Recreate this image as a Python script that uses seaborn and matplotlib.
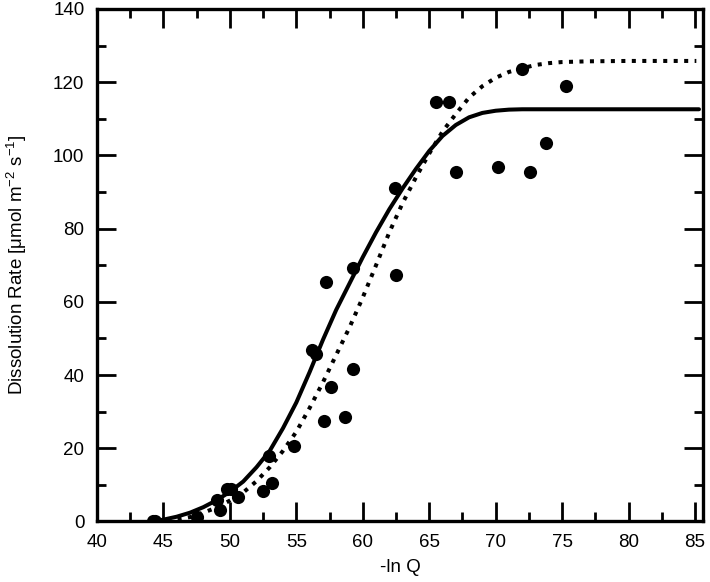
import numpy as np
import pandas as pd
import seaborn as sns
import matplotlib.pyplot as plt
from matplotlib.ticker import MultipleLocator

# measured dissolution rates
ln_q = [44.2, 44.4, 47.5, 49.0, 49.25, 49.75, 50.1, 50.6, 52.5, 52.96,
        53.2, 54.8, 56.2, 56.5, 57.1, 57.2, 57.6, 58.7, 59.3, 59.3,
        62.4, 62.5, 65.5, 66.5, 67.0, 70.2, 72.0, 72.6, 73.8, 75.3]
rate = [0.2, 0.2, 1.2, 5.8, 3.0, 9.0, 9.0, 6.8, 8.3, 17.9,
        10.5, 20.5, 46.8, 45.8, 27.5, 65.4, 36.6, 28.6, 41.6, 69.2,
        91.1, 67.4, 114.6, 114.6, 95.4, 96.8, 123.7, 95.4, 103.5, 119.0]

# model curve 1 (solid)
fit1_x = [44.2, 45.0, 46.0, 47.0, 48.0, 49.0, 50.0, 51.0, 52.0, 53.0,
          54.0, 55.0, 56.0, 57.0, 58.0, 59.0, 60.0, 61.0, 62.0,
          63.0, 64.0, 65.0, 66.0, 67.0, 68.0, 69.0, 70.0, 71.0, 72.0,
          85.3]
fit1_y = [0.0, 0.5, 1.3, 2.4, 3.9, 5.8, 8.1, 10.9, 14.8, 19.3,
          25.5, 32.5, 40.8, 49.6, 57.8, 65.0, 72.2, 79.0, 85.3,
          91.0, 96.3, 101.2, 105.3, 108.3, 110.4, 111.6, 112.2, 112.5, 112.6,
          112.6]

# model curve 2 (dotted)
fit2_x = [44.5, 45.0, 46.0, 47.0, 48.0, 49.0, 50.0, 51.0, 52.0, 53.0,
          54.0, 55.0, 56.0, 57.0, 58.0, 59.0, 60.0, 61.0, 62.0, 63.0,
          64.0, 65.0, 66.0, 67.0, 68.0, 69.0, 70.0, 71.0, 72.0, 73.0,
          74.0, 75.0, 77.0, 80.0, 85.1]
fit2_y = [0.0, 0.1, 0.5, 1.2, 2.4, 3.8, 5.7, 7.9, 11.0, 14.8,
          19.3, 24.5, 31.0, 38.0, 45.5, 53.0, 61.2, 70.0, 79.0, 87.0,
          94.0, 100.5, 106.5, 111.3, 115.8, 118.9, 121.2, 122.8, 123.8, 124.7,
          125.2, 125.5, 125.7, 125.8, 125.8]

sns.set_style("ticks", {"axes.edgecolor": "black", "xtick.color": "black",
                        "ytick.color": "black", "text.color": "black",
                        "axes.labelcolor": "black"})
plt.rcParams['font.family'] = ['Liberation Sans', 'DejaVu Sans']
plt.rcParams['mathtext.fontset'] = 'custom'
plt.rcParams['mathtext.rm'] = 'Liberation Sans'
plt.rcParams['mathtext.it'] = 'Liberation Sans:italic'

fig = plt.figure(figsize=(7.1, 5.82), dpi=100)
ax = fig.add_axes([0.1366, 0.104, 0.8535, 0.8806])

sns.lineplot(x=fit1_x, y=fit1_y, color="k", lw=2.9, estimator=None, sort=False, ax=ax)
sns.lineplot(x=fit2_x, y=fit2_y, color="k", lw=2.9, estimator=None, sort=False,
             linestyle=(0, (1, 1.6)), ax=ax)
sns.scatterplot(x=ln_q, y=rate, color="k", s=90, linewidth=0, ax=ax, zorder=3)

ax.set_xlim(40, 85.6)
ax.set_ylim(0, 140)
ax.xaxis.set_major_locator(MultipleLocator(5))
ax.xaxis.set_minor_locator(MultipleLocator(2.5))
ax.yaxis.set_major_locator(MultipleLocator(20))
ax.yaxis.set_minor_locator(MultipleLocator(10))
ax.tick_params(which="both", direction="in", top=True, right=True, width=2,
               color="black", labelcolor="black", labelsize=13.5)
ax.tick_params(which="major", length=13.7, pad=9)
ax.tick_params(which="minor", length=6.5)
for s in ax.spines.values():
    s.set_linewidth(2.4)
    s.set_color("black")

ax.set_xlabel("-ln Q", fontsize=13.5, labelpad=6, color="black")
ax.set_ylabel(r"Dissolution Rate [μmol m$^{-2}$ s$^{-1}$]", fontsize=13.5,
              labelpad=17, color="black")

plt.savefig("out.png", dpi=100)
